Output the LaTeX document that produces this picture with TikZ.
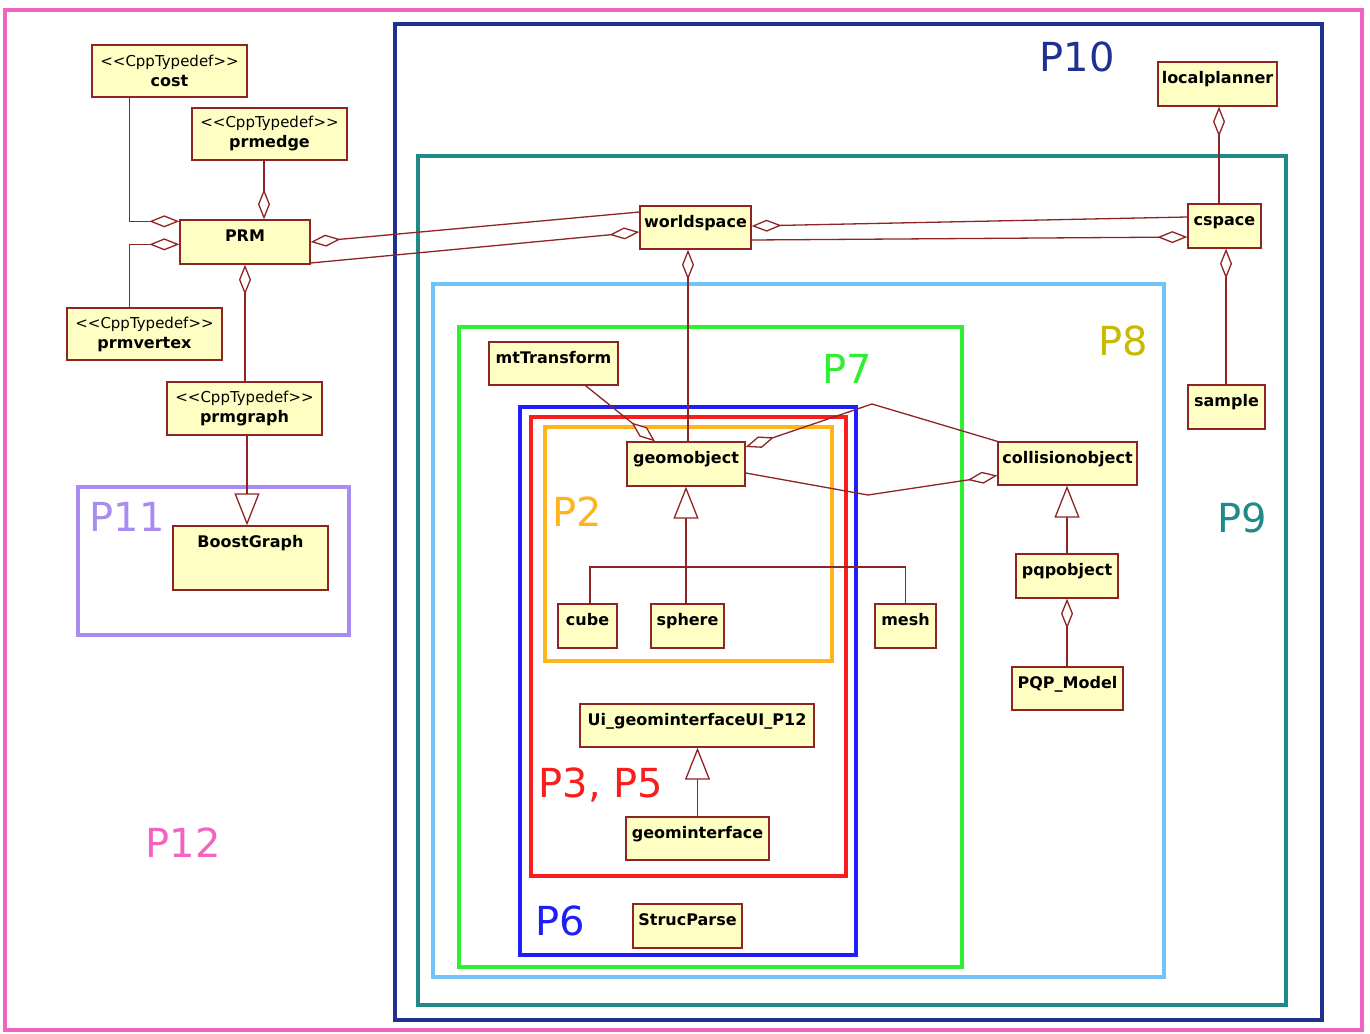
\documentclass[tikz,border=0pt]{standalone}
\usepackage{fontspec}
\setmainfont{DejaVu Sans}
\usetikzlibrary{arrows.meta,calc}
\definecolor{lc}{HTML}{8E2424}
\definecolor{yf}{HTML}{FFFFC4}
\definecolor{cPa}{HTML}{F264C4}
\definecolor{cPb}{HTML}{A98CF0}
\definecolor{cPc}{HTML}{1E3090}
\definecolor{cPd}{HTML}{208A8A}
\definecolor{cPe}{HTML}{70C4F8}
\definecolor{cPeL}{HTML}{C8BA00}
\definecolor{cPf}{HTML}{30EE30}
\definecolor{cPg}{HTML}{1E1EF8}
\definecolor{cPh}{HTML}{F81E1E}
\definecolor{cPi}{HTML}{FFB41E}
\newcommand\cppst{<\kern0pt<CppTypedef>\kern0pt>}
\newcommand\tdname[1]{{\fontsize{16}{20}\selectfont\bfseries #1}}
\begin{document}
\begin{tikzpicture}[x=1pt,y=-1pt,
  cls/.style={draw=lc, fill=yf, line width=1.3pt, inner sep=2pt,
    font=\fontsize{16}{18}\selectfont\bfseries, text height=12pt, text depth=13pt},
  tdef/.style={draw=lc, fill=yf, line width=1.3pt, inner sep=2pt, align=center,
    font=\fontsize{15}{20}\selectfont, minimum width=155pt, minimum height=52pt},
  conn/.style={draw=lc, line width=1.3pt},
  adend/.style={-{Diamond[length=30pt,width=12pt,fill=white]}},
  adstart/.style={{Diamond[length=30pt,width=12pt,fill=white]}-},
  gen/.style={-{Triangle[length=32pt,width=25pt,fill=white]}},
  frame/.style={line width=4.2pt},
  plabel/.style={font=\fontsize{40}{40}\selectfont, inner sep=0pt}
]
\useasboundingbox (0,0) rectangle (1370,1033);
\fill[white] (0,0) rectangle (1370,1033);

% frames
\draw[frame, draw=cPa] (5,10) rectangle (1362,1030);
\draw[frame, draw=cPb] (78,487) rectangle (349,635);
\draw[frame, draw=cPc] (395,24) rectangle (1322,1020);
\draw[frame, draw=cPd] (418,156) rectangle (1286,1005);
\draw[frame, draw=cPe] (433,284) rectangle (1164,977);
\draw[frame, draw=cPf] (459,327) rectangle (962,967);
\draw[frame, draw=cPg] (520,407) rectangle (856,955);
\draw[frame, draw=cPh] (531,417) rectangle (846,876);
\draw[frame, draw=cPi] (545,427) rectangle (832,661);

% frame labels
\node[plabel, text=cPa] (lP12) at (183,843) {P12};
\node[plabel, text=cPb] (lP11) at (127,517) {P11};
\node[plabel, text=cPc] (lP10) at (1077,57) {P10};
\node[plabel, text=cPd] (lP9) at (1242,518) {P9};
\node[plabel, text=cPeL] (lP8) at (1123,341) {P8};
\node[plabel, text=cPf] (lP7) at (847,369) {P7};
\node[plabel, text=cPg] (lP6) at (560,921) {P6};
\node[plabel, text=cPh, anchor=base] (lP35) at (601,797) {P3, P5};
\node[plabel, text=cPi] (lP2) at (577,512) {P2};

% typedef boxes
\node[tdef] (cost) at (169.5,71) {\cppst\\\tdname{cost}};
\node[tdef] (prmedge) at (269.5,134) {\cppst\\\tdname{prmedge}};
\node[tdef] (prmvertex) at (144.5,334) {\cppst\\\tdname{prmvertex}};
\node[tdef, minimum height=53pt] (prmgraph) at (244.5,408.5) {\cppst\\\tdname{prmgraph}};

% classes
\node[cls, minimum width=130pt, minimum height=44pt] (PRM) at (245,242) {PRM};
\node[cls, minimum width=155pt, minimum height=64pt, text depth=33.6pt] (BoostGraph) at (250.5,558) {BoostGraph};
\node[cls, minimum width=119pt, minimum height=44pt] (localplanner) at (1217.5,84) {localplanner};
\node[cls, minimum width=111pt, minimum height=43pt] (worldspace) at (695.5,227.5) {worldspace};
\node[cls, minimum width=73pt, minimum height=44pt] (cspace) at (1224.5,226) {cspace};
\node[cls, minimum width=77pt, minimum height=44pt] (sample) at (1226.5,407) {sample};
\node[cls, minimum width=129pt, minimum height=43pt] (mtTransform) at (553.5,363.5) {mtTransform};
\node[cls, minimum width=118pt, minimum height=44pt] (geomobject) at (686,464) {geomobject};
\node[cls, minimum width=139pt, minimum height=43pt] (collisionobject) at (1067.5,463.5) {collisionobject};
\node[cls, minimum width=102pt, minimum height=44pt] (pqpobject) at (1067,576) {pqpobject};
\node[cls, minimum width=111pt, minimum height=43pt] (pqpmodel) at (1067.5,688.5) {PQP\_Model};
\node[cls, minimum width=59pt, minimum height=44pt] (cube) at (587.5,626) {cube};
\node[cls, minimum width=73pt, minimum height=44pt] (sphere) at (687.5,626) {sphere};
\node[cls, minimum width=61pt, minimum height=44pt] (mesh) at (905.5,626) {mesh};
\node[cls, minimum width=234pt, minimum height=43pt] (ui) at (697,725.5) {Ui\_geominterfaceUI\_P12};
\node[cls, minimum width=143pt, minimum height=43pt] (geominterface) at (697.5,838.5) {geominterface};
\node[cls, minimum width=109pt, minimum height=44pt] (StrucParse) at (687.5,926) {StrucParse};

% connectors
\coordinate (cA) at ([xshift=38pt]cost.south west);
\draw[conn, adend] (cA) |- ([yshift=-2pt]PRM.north west);
\coordinate (vA) at ([xshift=63pt]prmvertex.north west);
\draw[conn, adend] (vA) |- ([yshift=-25pt]PRM.north west);
\coordinate (eA) at ([xshift=19pt]PRM.north);
\draw[conn, adend] (eA |- prmedge.south) -- (eA);
\draw[conn, adstart] (PRM.south) -- (PRM.south |- prmgraph.north);
\coordinate (gA) at ([xshift=2.5pt]prmgraph.south);
\draw[conn, gen] (gA) -- (gA |- BoostGraph.north);

\draw[conn, adstart] (PRM.east) -- ([yshift=15.5pt]worldspace.west);
\draw[conn, adend] ([yshift=-21pt]PRM.east) -- ([yshift=-4.5pt]worldspace.west);
\draw[conn, adstart] ([yshift=1.5pt]worldspace.east) -- ([yshift=9pt]cspace.west);
\draw[conn, adend] ([yshift=-12.5pt]worldspace.east) -- ([yshift=-11pt]cspace.west);

\coordinate (lA) at ([xshift=1.5pt]localplanner.south);
\draw[conn, adstart] (lA) -- (lA |- cspace.north);
\coordinate (sA) at ([xshift=1.5pt]cspace.south);
\draw[conn, adstart] (sA) -- (sA |- sample.north);
\coordinate (wA) at ([xshift=2pt]geomobject.north);
\draw[conn, adstart] (wA |- worldspace.south) -- (wA);
\draw[conn, adend] ([xshift=32pt]mtTransform.south) -- ([xshift=-31pt]geomobject.north);

\coordinate (w1) at (872,404);
\coordinate (w2) at (868,495);
\draw[conn, adstart] ([yshift=17pt]geomobject.east) -- (w1) -- (collisionobject.north west);
\draw[conn, adend] ([yshift=-9pt]geomobject.east) -- (w2) -- ([yshift=-12pt]collisionobject.west);

\draw[conn, gen] (pqpobject.north) -- (pqpobject.north |- collisionobject.south);
\draw[conn, adstart] (pqpobject.south) -- (pqpobject.south |- pqpmodel.north);

\coordinate (gj) at (686,567);
\coordinate (cj) at ([xshift=2.5pt]cube.north);
\draw[conn] (cj) -- (cj |- gj) -- (mesh.north |- gj) -- (mesh.north);
\draw[conn] (gj |- sphere.north) -- (gj);
\draw[conn, gen] (gj) -- (gj |- geomobject.south);
\draw[conn, gen] (geominterface.north) -- (geominterface.north |- ui.south);
\end{tikzpicture}
\end{document}
